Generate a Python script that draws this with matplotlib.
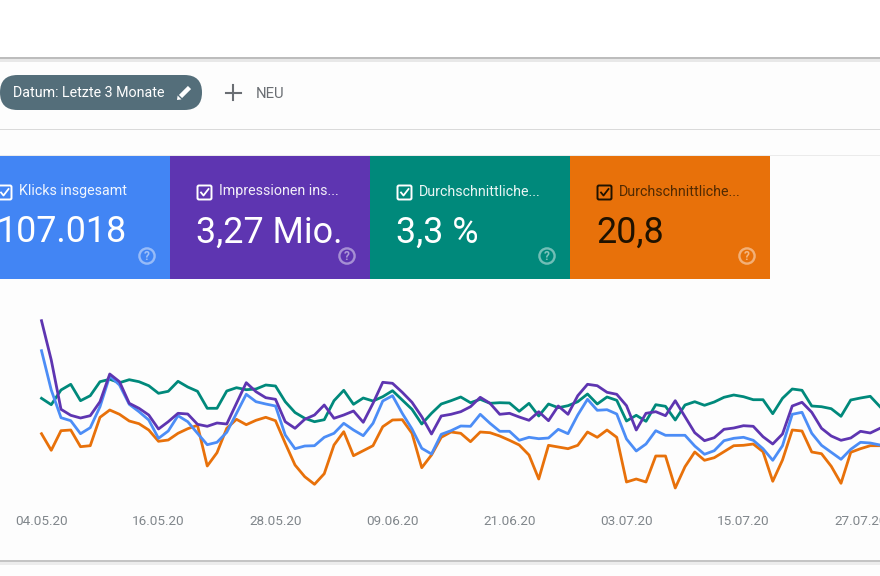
import pandas as pd
import matplotlib
matplotlib.use('Agg')
import matplotlib.pyplot as plt
from matplotlib.patches import Rectangle, FancyBboxPatch, Circle, Polygon

plt.rcParams['font.family'] = ['Roboto', 'DejaVu Sans']

# Values (chart units, arbitrary scale)
clicks = [149.3, 110, 82.3, 79.3, 66.3, 72.3, 93.3, 124, 115, 95.7, 88.3, 80, 61.7, 69, 84.3, 78.3, 66.7, 55.3, 57.7, 67.7,
          86.7, 105.7, 98.3, 96, 94, 65, 51.3, 54, 54.3, 62.7, 66.7, 76.7, 70, 64.3, 76.7, 99, 104.3, 86.7, 71, 51.7,
          46, 65.7, 69.3, 74, 73.7, 85.7, 76.7, 68.7, 68.7, 59.7, 62.7, 61.3, 62, 70.7, 66.3, 85, 100.7, 89.7, 90.3, 86,
          61, 49, 56, 69.3, 64.7, 64.7, 64.7, 54, 45.7, 49.3, 59.3, 61.7, 62.7, 59.7, 51.3, 39.7, 54.3, 85.7, 87.7, 66.7,
          54.7, 47.7, 40.7, 50.7, 57.7, 57, 55]
impressions = [179.3, 140, 90.7, 84.7, 82, 84.3, 98.3, 126, 118.3, 96.7, 91.7, 85, 71, 78.3, 86.7, 86, 75.7, 73.7, 77, 76,
               96.7, 117.3, 108.3, 102.3, 100.7, 78.3, 71.7, 80.7, 85, 95, 81.7, 85, 89, 77.7, 96.7, 117.7, 116.7, 107.7, 97.7, 83.3,
               66, 84, 85.7, 88.3, 93.3, 102.7, 96.7, 85.7, 86.7, 83, 79.7, 88.3, 79.3, 94, 85.7, 104.3, 115.7, 114.3, 107.7, 105.7,
               94.3, 70, 86.7, 88.3, 84.3, 99.3, 83.3, 67.3, 59.3, 62.3, 70.7, 72, 74.3, 73.7, 63.3, 56, 66, 94, 97.7, 87.7,
               71.7, 64, 59.7, 62, 68.7, 67, 71.7]
ctr = [101.7, 95.3, 110, 115.7, 99.3, 104.3, 118.3, 120.7, 117.3, 120.3, 118.3, 114.3, 106.7, 108.7, 118.7, 113, 108.7, 91.7, 91.7, 109,
       112.3, 110.3, 111, 115, 114, 98.3, 87.5, 81.7, 78.3, 80.3, 99.3, 109.7, 95.7, 102, 99, 103.3, 109.3, 100, 90.7, 76,
       86.7, 96, 99.3, 103, 97.3, 100.7, 96.7, 97.3, 97, 88.7, 96.7, 84, 96, 92.3, 94.3, 98.3, 106, 96, 103, 99.7,
       79, 84.7, 78.7, 95.3, 93.7, 80, 95, 98.3, 94.7, 98, 102.7, 105, 103.3, 100.3, 100.3, 86.3, 101.7, 111, 109.7, 94,
       93.3, 91.3, 83.7, 100, 102, 103.7, 93.3]
position = [66.3, 49.7, 69.3, 70, 53.3, 54.3, 82.7, 90, 85.7, 79, 76.3, 70, 58.7, 60, 66.7, 71.3, 74.7, 34, 47.3, 71.7,
            80.7, 75.3, 79.7, 82.7, 79.3, 56.7, 35, 23.3, 15.7, 26.3, 55, 68.3, 44.3, 49.3, 54.3, 73.3, 80, 80.3, 66.7, 32.3,
            45, 62.7, 68, 66.7, 58.3, 68, 67.3, 64, 59.7, 55, 45, 21, 54.7, 53, 51.3, 54.7, 68, 62.7, 70, 62.7,
            18, 21, 18, 44, 44, 12, 33.3, 48, 39.7, 42.3, 48.3, 54.3, 54.7, 56, 48.3, 18.7, 40, 70, 69, 48,
            46.3, 33.7, 16.7, 47.7, 51.3, 54.3, 54.3]
tick_labels = ['04.05.20', '16.05.20', '28.05.20', '09.06.20', '21.06.20', '03.07.20', '15.07.20', '27.07.20']

card_titles = ['Klicks insgesamt', 'Impressionen ins...', 'Durchschnittliche...', 'Durchschnittliche...']
card_values = ['107.018', '3,27 Mio.', '3,3 %', '20,8']
card_colors = ['#4285F4', '#5E35B1', '#00897B', '#E8710A']
card_text = ['white', 'white', 'white', '#1f1200']

fig = plt.figure(figsize=(8.8, 5.76), dpi=100, facecolor='#FDFDFD')

# Page furniture, drawn in image pixels
ui = fig.add_axes([0, 0, 1, 1])
ui.set_xlim(0, 880)
ui.set_ylim(576, 0)
ui.axis('off')

# header shadows and separators
ui.add_patch(Rectangle((0, 0), 880, 57, color='white', lw=0))
ui.add_patch(Rectangle((0, 57), 880, 2, color='#BDBDBD', lw=0))
ui.add_patch(Rectangle((0, 59), 880, 3, color='#E8E8E8', lw=0))
ui.add_patch(Rectangle((0, 128.5), 880, 1.2, color='#DADADA', lw=0))
ui.add_patch(Rectangle((0, 154.5), 880, 1, color='#EBEBEB', lw=0))
ui.add_patch(Rectangle((0, 560), 880, 1.5, color='#C4C4C4', lw=0))
ui.add_patch(Rectangle((0, 561.5), 880, 3, color='#ECECEC', lw=0))

# date filter pill
ui.add_patch(FancyBboxPatch((0, 75), 202, 35, boxstyle='round,pad=0,rounding_size=17.5',
                            fc='#546E7A', ec='none', mutation_aspect=1))
ui.text(13, 93, 'Datum: Letzte 3 Monate', color='white', fontsize=10.3, va='center', ha='left')
ui.plot([180.5, 189.5], [96.5, 87.5], color='white', lw=3.2, solid_capstyle='butt')
ui.add_patch(Polygon([[177, 100], [177.6, 95.5], [181.5, 99.4]], color='white', lw=0))
ui.plot([233, 233], [85, 100], color='#6A6E73', lw=1.5)
ui.plot([225.5, 240.5], [92.5, 92.5], color='#6A6E73', lw=1.5)
ui.text(256, 93.5, 'NEU', color='#6A6E73', fontsize=10.7, va='center', ha='left')

# metric cards
for i, (title, val, col, tc) in enumerate(zip(card_titles, card_values, card_colors, card_text)):
    x0 = -30 + 200 * i
    left = 0 if i == 0 else x0
    ui.add_patch(Rectangle((left, 156), x0 + 200 - left, 123, color=col, lw=0))
    ui.add_patch(FancyBboxPatch((x0 + 27.5, 185.5), 14, 14, boxstyle='round,pad=0,rounding_size=1.5',
                                fc='none', ec=tc, lw=1.4))
    ui.plot([x0 + 31, x0 + 33.5, x0 + 38.5], [192.5, 195.5, 189], color=tc, lw=1.3)
    ui.text(x0 + 49, 191.5, title, color=tc, alpha=0.92 if i < 3 else 0.75, fontsize=10.3, va='center', ha='left')
    ui.text(x0 + 26.5, 232.5, val, color=tc, fontsize=25.8, va='center', ha='left')
    ui.add_patch(Circle((x0 + 177, 256), 7.6, fc='none', ec='white', alpha=0.45, lw=1.7))
    ui.text(x0 + 177, 256.3, '?', color='white', alpha=0.5, fontsize=8.5, fontweight='bold', va='center', ha='center')

# Chart: 9.75 px per day, starting at x=41.5, y=500 is zero
ax = fig.add_axes([0, 76 / 576, 1, 210 / 576])
ax.patch.set_alpha(0)
dates = pd.date_range('2020-05-04', periods=len(clicks))
ax.plot(dates, ctr, color='#00897B', lw=2.0)
ax.plot(dates, position, color='#E8710A', lw=2.0)
ax.plot(dates, clicks, color='#4C8DF6', lw=2.0)
ax.plot(dates, impressions, color='#5E35B1', lw=2.0)
ax.set_xlim(dates[0] - pd.Timedelta(days=41.5 / 9.75), dates[-1])
ax.set_ylim(0, 210)
ax.set_yticks([])
ax.set_xticks(dates[::12])
ax.set_xticklabels(tick_labels, color='#80868B', fontsize=9.7)
ax.tick_params(axis='x', length=0, pad=11)
for side in ax.spines.values():
    side.set_visible(False)

fig.savefig('out.png', dpi=100, facecolor=fig.get_facecolor())
